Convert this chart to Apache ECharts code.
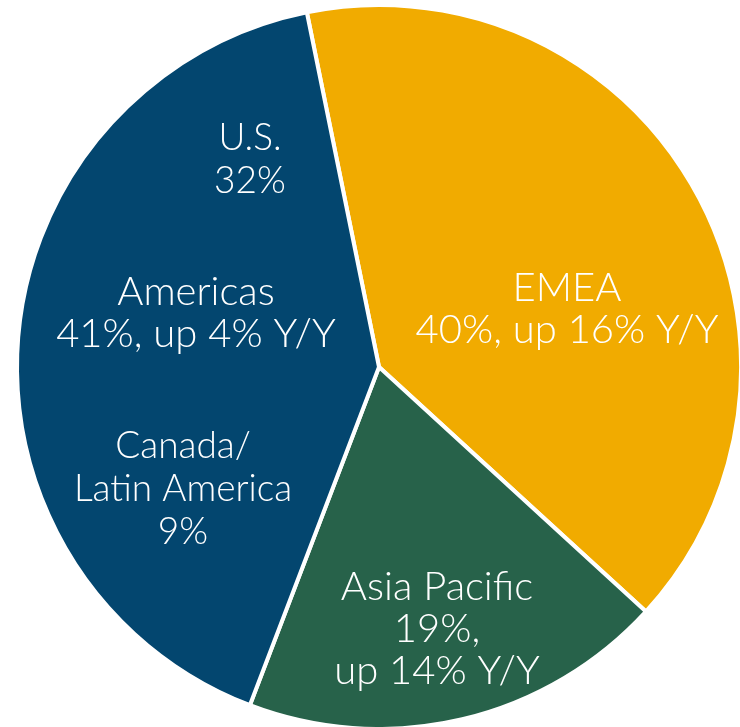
<!DOCTYPE html>
<html>
<head>
<meta charset="utf-8">
<script src="https://cdn.jsdelivr.net/npm/echarts@6/dist/echarts.min.js"></script>
<style>
  html, body { margin: 0; padding: 0; background: #fff; }
  #chart { width: 740px; height: 727px; }
</style>
</head>
<body>
<div id="chart"></div>
<script>
// revenue share by region (clockwise from the top)
var regions = ['EMEA', 'Asia Pacific', 'Americas'];
var shares = [40, 19, 41];
var growth = [16, 14, 4];
// breakdown of the Americas slice
var subRegions = ['U.S.', 'Canada/\nLatin America'];
var subShares = [32, 9];

var colors = ['#F1AB00', '#27624A', '#03466F'];
var labelPos = [[567, 309], [437, 629], [196, 313]];
var subPos = [[250, 160], [183, 489]];
var font = 'Lato, "Noto Sans", sans-serif';

var myChart = echarts.init(document.getElementById('chart'));

var pieData = regions.map(function (name, i) {
  return { name: name, value: shares[i], itemStyle: { color: colors[i] } };
});

var option = {
  animation: false,
  series: [{
    type: 'pie',
    center: [379, 367],
    radius: [0, 362],
    startAngle: 101.5,
    clockwise: true,
    silent: true,
    itemStyle: {
      borderColor: '#fff',
      borderWidth: 4
    },
    label: {
      show: true,
      position: 'inside',
      color: '#fff',
      fontFamily: font,
      fontWeight: 300,
      fontSize: 40,
      lineHeight: 42,
      formatter: function (p) {
        var i = p.dataIndex;
        var sep = i === 1 ? ',\n' : ', ';
        return p.name + '\n' + shares[i] + '%' + sep + 'up ' + growth[i] + '% Y/Y';
      }
    },
    labelLine: { show: false },
    labelLayout: function (params) {
      var pos = labelPos[params.dataIndex];
      return { x: pos[0], y: pos[1] };
    },
    data: pieData
  }],
  graphic: subRegions.map(function (name, i) {
    return {
      type: 'text',
      x: subPos[i][0],
      y: subPos[i][1],
      z: 100,
      silent: true,
      style: {
        text: name + '\n' + subShares[i] + '%',
        fill: '#fff',
        font: '300 37px ' + font,
        lineHeight: 43,
        align: 'center',
        verticalAlign: 'middle'
      }
    };
  })
};

myChart.setOption(option);
</script>
</body>
</html>
